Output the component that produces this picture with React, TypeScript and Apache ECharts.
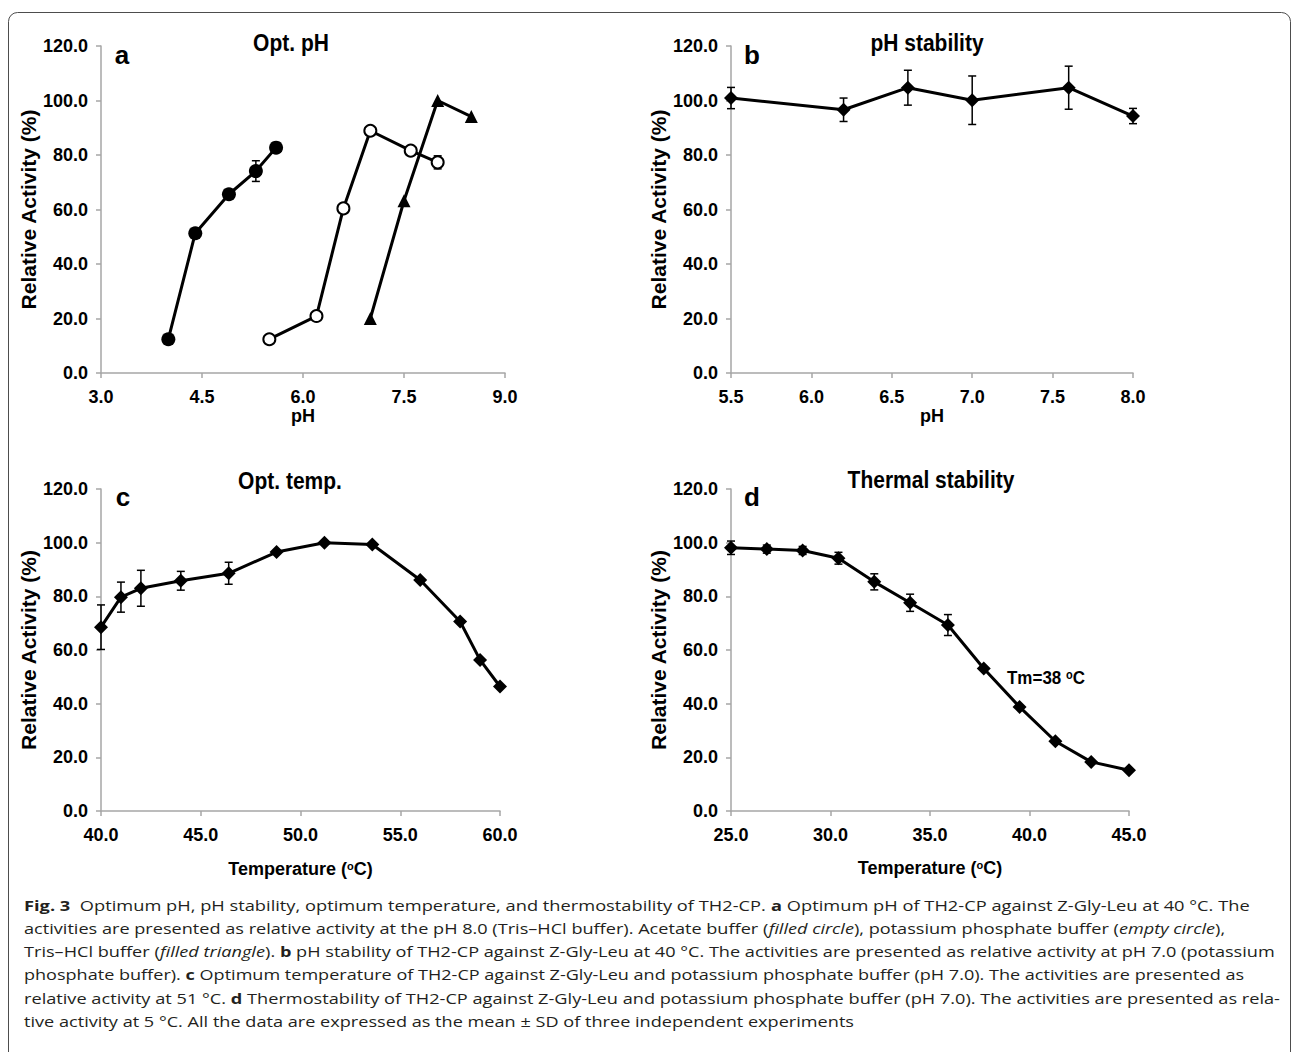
import React, { useEffect, useRef } from "react";
import * as echarts from "echarts";

// ---------- data ----------
// Panel a: optimum pH
const acetatePH = [4.0, 4.4, 4.9, 5.3, 5.6];
const acetateAct = [12.4, 51.3, 65.6, 74.1, 82.7];
const acetateSD = [0, 0, 0, 3.8, 0];
const phosphatePH = [5.5, 6.2, 6.6, 7.0, 7.6, 8.0];
const phosphateAct = [12.4, 20.9, 60.4, 88.9, 81.6, 77.3];
const phosphateSD = [0, 0, 0, 0, 0, 2.4];
const trisPH = [7.0, 7.5, 8.0, 8.5];
const trisAct = [20.0, 63.2, 100.0, 94.1];
// Panel b: pH stability
const stabPH = [5.5, 6.2, 6.6, 7.0, 7.6, 8.0];
const stabAct = [100.9, 96.6, 104.7, 100.1, 104.7, 94.3];
const stabSD = [3.9, 4.3, 6.4, 8.9, 7.9, 2.8];
// Panel c: optimum temperature
const optTemp = [40.0, 41.0, 42.0, 44.0, 46.4, 48.8, 51.2, 53.6, 56.0, 58.0, 59.0, 60.0];
const optAct = [68.5, 79.7, 83.0, 85.8, 88.6, 96.5, 100.0, 99.3, 86.1, 70.6, 56.3, 46.4];
const optSD = [8.3, 5.6, 6.7, 3.5, 4.1, 0, 0, 0, 0, 0, 0, 0];
// Panel d: thermal stability
const thermTemp = [25.0, 26.8, 28.6, 30.4, 32.2, 34.0, 35.9, 37.7, 39.5, 41.3, 43.1, 45.0];
const thermAct = [98.1, 97.6, 97.1, 94.2, 85.4, 77.6, 69.3, 53.1, 38.8, 26.0, 18.3, 15.2];
const thermSD = [2.5, 1.5, 1.5, 2.2, 3.0, 3.2, 3.9, 0, 0, 0, 0, 0];

const panelTitles = ["Opt. pH", "pH stability", "Opt. temp.", "Thermal stability"];
const panelLetters = ["a", "b", "c", "d"];
const yName = "Relative Activity (%)";
const tmLabel = "Tm=38 ";

type Seg = [string, "n" | "b" | "i"];
const captionLines: Seg[][] = [
  [["Fig. 3", "b"], ["  Optimum pH, pH stability, optimum temperature, and thermostability of TH2-CP. ", "n"], ["a", "b"], [" Optimum pH of TH2-CP against Z-Gly-Leu at 40 °C. The", "n"]],
  [["activities are presented as relative activity at the pH 8.0 (Tris–HCl buffer). Acetate buffer (", "n"], ["filled circle", "i"], ["), potassium phosphate buffer (", "n"], ["empty circle", "i"], ["),", "n"]],
  [["Tris–HCl buffer (", "n"], ["filled triangle", "i"], ["). ", "n"], ["b", "b"], [" pH stability of TH2-CP against Z-Gly-Leu at 40 °C. The activities are presented as relative activity at pH 7.0 (potassium", "n"]],
  [["phosphate buffer). ", "n"], ["c", "b"], [" Optimum temperature of TH2-CP against Z-Gly-Leu and potassium phosphate buffer (pH 7.0). The activities are presented as", "n"]],
  [["relative activity at 51 °C. ", "n"], ["d", "b"], [" Thermostability of TH2-CP against Z-Gly-Leu and potassium phosphate buffer (pH 7.0). The activities are presented as rela-", "n"]],
  [["tive activity at 5 °C. All the data are expressed as the mean ± SD of three independent experiments", "n"]],
];
const captionEnds = [1250, 1225, 1276, 1244, 1281, 0];

// ---------- styling ----------
const SANS = "'Liberation Sans', Arial, sans-serif";
const CAP = "'Open Sans', 'Noto Sans', sans-serif";
const AXIS_GRAY = "#a6a6a6";
const CAP_SIZE = 15;

const grids = [
  { left: 101, top: 46, width: 404, height: 327 },
  { left: 731, top: 46, width: 402, height: 327 },
  { left: 101, top: 489, width: 399, height: 322 },
  { left: 731, top: 489, width: 398, height: 322 },
];

function zip(xs: number[], ys: number[]) {
  return xs.map((x, i) => [x, ys[i]]);
}
function zip3(xs: number[], ys: number[], es: number[]) {
  return xs.map((x, i) => [x, ys[i], es[i]]);
}

const fmt1 = (v: number) => v.toFixed(1);

function xAxis(idx: number, min: number, max: number, interval: number, name: string, nameGap: number) {
  return {
    type: "value",
    gridIndex: idx,
    min,
    max,
    interval,
    name,
    nameLocation: "middle",
    nameGap,
    nameTextStyle: {
      fontFamily: SANS,
      fontWeight: "bold",
      fontSize: 18,
      color: "#000",
      rich: {
        t: { fontFamily: SANS, fontWeight: "bold", fontSize: 18, color: "#000" },
        sup: { fontFamily: SANS, fontWeight: "bold", fontSize: 11, color: "#000", verticalAlign: "top" },
      },
    },
    axisLine: { show: true, onZero: false, lineStyle: { color: AXIS_GRAY, width: 1.5 } },
    axisTick: { show: true, length: 5, lineStyle: { color: AXIS_GRAY, width: 1.5 } },
    axisLabel: { formatter: fmt1, fontFamily: SANS, fontWeight: "bold", fontSize: 18, color: "#000", margin: 15 },
    splitLine: { show: false },
  };
}

function yAxis(idx: number) {
  return {
    type: "value",
    gridIndex: idx,
    min: 0,
    max: 120,
    interval: 20,
    name: yName,
    nameLocation: "middle",
    nameGap: 59,
    nameTextStyle: { fontFamily: SANS, fontWeight: "bold", fontSize: 21, color: "#000" },
    axisLine: { show: true, onZero: false, lineStyle: { color: AXIS_GRAY, width: 1.5 } },
    axisTick: { show: true, length: 5, lineStyle: { color: AXIS_GRAY, width: 1.5 } },
    axisLabel: { formatter: fmt1, fontFamily: SANS, fontWeight: "bold", fontSize: 18, color: "#000", margin: 13 },
    splitLine: { show: false },
  };
}

function lineSeries(idx: number, data: number[][], symbol: string, size: number, extra: any = {}) {
  return {
    type: "line",
    xAxisIndex: idx,
    yAxisIndex: idx,
    data,
    symbol,
    symbolSize: size,
    clip: false,
    z: 3,
    lineStyle: { color: "#000", width: 3 },
    itemStyle: { color: "#000", ...(extra.itemStyle || {}) },
  };
}

function errSeries(idx: number, data: number[][]) {
  return {
    type: "custom",
    xAxisIndex: idx,
    yAxisIndex: idx,
    data,
    z: 2,
    clip: false,
    encode: { x: 0, y: 1 },
    renderItem: (params: any, api: any) => {
      const x = api.value(0);
      const y = api.value(1);
      const e = api.value(2);
      if (!e) return null;
      const top = api.coord([x, y + e]);
      const bot = api.coord([x, y - e]);
      const hw = 4;
      const st = { stroke: "#000", lineWidth: 1.5 };
      return {
        type: "group",
        children: [
          { type: "line", shape: { x1: top[0], y1: top[1], x2: bot[0], y2: bot[1] }, style: st },
          { type: "line", shape: { x1: top[0] - hw, y1: top[1], x2: top[0] + hw, y2: top[1] }, style: st },
          { type: "line", shape: { x1: bot[0] - hw, y1: bot[1], x2: bot[0] + hw, y2: bot[1] }, style: st },
        ],
      };
    },
  };
}

function buildCaption() {
  const canvas = document.createElement("canvas");
  const ctx = canvas.getContext("2d")!;
  const fontFor = (k: string) =>
    k === "b" ? `bold ${CAP_SIZE}px ${CAP}` : k === "i" ? `italic ${CAP_SIZE}px ${CAP}` : `${CAP_SIZE}px ${CAP}`;
  const left = 24;
  const widths = captionLines.map((segs) =>
    segs.reduce((acc, [t, k]) => {
      ctx.font = fontFor(k);
      return acc + ctx.measureText(t).width;
    }, 0)
  );
  const scales = widths.map((w, i) => (captionEnds[i] ? (captionEnds[i] - left) / w : 0));
  const valid = scales.filter((s) => s > 0);
  const avg = valid.reduce((a, b) => a + b, 0) / valid.length;
  return captionLines.map((segs, i) => ({
    type: "text",
    x: left,
    y: 905 + i * 23.2,
    scaleX: scales[i] || avg,
    style: {
      text: segs.map(([t, k]) => `{${k}|${t}}`).join(""),
      fill: "#231f20",
      fontFamily: CAP,
      fontSize: CAP_SIZE,
      verticalAlign: "middle",
      align: "left",
      rich: {
        n: { fontFamily: CAP, fontSize: CAP_SIZE, fill: "#231f20", color: "#231f20" },
        b: { fontFamily: CAP, fontSize: CAP_SIZE, fontWeight: "bold", fill: "#231f20", color: "#231f20" },
        i: { fontFamily: CAP, fontSize: CAP_SIZE, fontStyle: "italic", fill: "#231f20", color: "#231f20" },
      },
    },
  }));
}

function buildOption() {
  const titlePos = [
    [291, 43],
    [927, 43],
    [290, 481],
    [931, 480],
  ];
  const letterPos = [
    [122, 55],
    [752, 55],
    [123, 497],
    [752, 497],
  ];
  const graphics: any[] = [
    {
      type: "rect",
      shape: { x: 8.5, y: 12.5, width: 1282, height: 1120, r: 9 },
      style: { fill: "none", stroke: "#4d4d4d", lineWidth: 1 },
      silent: true,
    },
  ];
  panelTitles.forEach((t, i) =>
    graphics.push({
      type: "text",
      x: titlePos[i][0],
      y: titlePos[i][1],
      scaleY: 1.12,
      style: { text: t, fontFamily: SANS, fontWeight: "bold", fontSize: 21, fill: "#000", align: "center", verticalAlign: "middle" },
    })
  );
  panelLetters.forEach((t, i) =>
    graphics.push({
      type: "text",
      x: letterPos[i][0],
      y: letterPos[i][1],
      style: { text: t, fontFamily: SANS, fontWeight: "bold", fontSize: 26, fill: "#000", align: "center", verticalAlign: "middle" },
    })
  );
  graphics.push({
    type: "text",
    x: 1007,
    y: 678,
    scaleY: 1.12,
    style: {
      text: `{t|${tmLabel}}{s|o}{t|C}`,
      fill: "#000",
      align: "left",
      verticalAlign: "middle",
      rich: {
        t: { fontFamily: SANS, fontWeight: "bold", fontSize: 17, fill: "#000" },
        s: { fontFamily: SANS, fontWeight: "bold", fontSize: 11, fill: "#000", verticalAlign: "top" },
      },
    },
  });
  graphics.push(...buildCaption());

  return {
    animation: false,
    backgroundColor: "#fff",
    grid: grids.map((g) => ({ ...g, containLabel: false })),
    xAxis: [
      xAxis(0, 3, 9, 1.5, "pH", 30),
      xAxis(1, 5.5, 8, 0.5, "pH", 30),
      xAxis(2, 40, 60, 5, "{t|Temperature (}{sup|o}{t|C)}", 49),
      xAxis(3, 25, 45, 5, "{t|Temperature (}{sup|o}{t|C)}", 48),
    ],
    yAxis: [yAxis(0), yAxis(1), yAxis(2), yAxis(3)],
    series: [
      errSeries(0, zip3(acetatePH, acetateAct, acetateSD)),
      errSeries(0, zip3(phosphatePH, phosphateAct, phosphateSD)),
      lineSeries(0, zip(acetatePH, acetateAct), "circle", 14),
      lineSeries(0, zip(phosphatePH, phosphateAct), "emptyCircle", 12, { itemStyle: { borderWidth: 1.8, borderColor: "#000" } }),
      lineSeries(0, zip(trisPH, trisAct), "triangle", 13),
      errSeries(1, zip3(stabPH, stabAct, stabSD)),
      lineSeries(1, zip(stabPH, stabAct), "diamond", 14),
      errSeries(2, zip3(optTemp, optAct, optSD)),
      lineSeries(2, zip(optTemp, optAct), "diamond", 14),
      errSeries(3, zip3(thermTemp, thermAct, thermSD)),
      lineSeries(3, zip(thermTemp, thermAct), "diamond", 14),
    ],
    graphic: graphics,
  };
}

export default function App() {
  const ref = useRef<HTMLDivElement>(null);
  useEffect(() => {
    const chart = echarts.init(ref.current!, null, { renderer: "svg" });
    chart.setOption(buildOption() as any);
    return () => chart.dispose();
  }, []);
  return (
    <div
      ref={ref}
      style={{ position: "absolute", left: 0, top: 0, width: 1293, height: 1052, background: "#fff" }}
    />
  );
}
